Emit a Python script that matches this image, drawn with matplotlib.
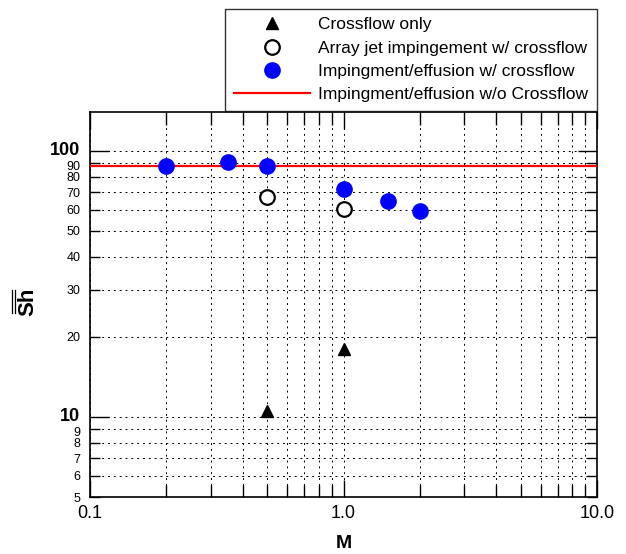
import matplotlib
matplotlib.use('Agg')
import matplotlib.pyplot as plt
from matplotlib.lines import Line2D
from matplotlib.transforms import ScaledTranslation
from matplotlib.ticker import FixedLocator, FixedFormatter, NullFormatter

plt.rcParams['font.family'] = ['Liberation Sans', 'DejaVu Sans']

# Mean Sherwood number vs blowing ratio
crossflow_m = [0.5, 1.0]
crossflow_sh = [10.5, 18.0]

jet_m = [0.5, 1.0]
jet_sh = [67.0, 60.5]

effusion_m = [0.2, 0.35, 0.5, 1.0, 1.5, 2.0]
effusion_sh = [88.0, 90.5, 88.0, 72.0, 65.0, 59.5]

no_crossflow_sh = 88.0

x_major = [0.1, 1.0, 10.0]
x_major_labels = ['0.1', '1.0', '10.0']
x_minor = [0.2, 0.3, 0.4, 0.5, 0.6, 0.7, 0.8, 0.9, 2, 3, 4, 5, 6, 7, 8, 9]
y_major = [10, 100]
y_minor = [5, 6, 7, 8, 9, 20, 30, 40, 50, 60, 70, 80, 90]

W, H = 626, 554
fig = plt.figure(figsize=(W / 100, H / 100), dpi=100)
ax = fig.add_axes([90 / W, 1 - 497 / H, 507 / W, 385 / H])

ax.set_xscale('log')
ax.set_yscale('log')
ax.set_xlim(0.1, 10)
ax.set_ylim(5, 140)

ax.plot(crossflow_m, crossflow_sh, linestyle='none', marker='^', ms=9,
        color='black', label='Crossflow only', zorder=4)
ax.plot(jet_m, jet_sh, linestyle='none', marker='o', ms=10.5,
        mfc='white', mec='black', mew=1.6,
        label='Array jet impingement w/ crossflow', zorder=4)
ax.plot(effusion_m, effusion_sh, linestyle='none', marker='o', ms=11,
        color='blue', label='Impingment/effusion w/ crossflow', zorder=5)
ax.axhline(no_crossflow_sh, color='red', lw=1.6,
           label='Impingment/effusion w/o Crossflow', zorder=3)

ax.xaxis.set_major_locator(FixedLocator(x_major))
ax.xaxis.set_major_formatter(FixedFormatter(x_major_labels))
ax.xaxis.set_minor_locator(FixedLocator(x_minor))
ax.xaxis.set_minor_formatter(NullFormatter())

ax.yaxis.set_major_locator(FixedLocator(y_major))
ax.yaxis.set_major_formatter(FixedFormatter([str(v) for v in y_major]))
ax.yaxis.set_minor_locator(FixedLocator(y_minor))
ax.yaxis.set_minor_formatter(FixedFormatter([str(v) for v in y_minor]))

ax.tick_params(which='both', direction='in', top=True, right=True,
               color='black', width=1.0)
ax.tick_params(axis='x', which='major', length=12, labelsize=13, pad=6)
ax.tick_params(axis='x', which='minor', length=9)
ax.tick_params(axis='y', which='major', length=14, labelsize=13, pad=7)
ax.tick_params(axis='y', which='minor', length=7, labelsize=9, pad=7)

# bold decade labels, nudged apart from the crowded 9 / 90 labels
up = ScaledTranslation(0, 1.5 / 72, fig.dpi_scale_trans)
down = ScaledTranslation(0, -1.5 / 72, fig.dpi_scale_trans)
for t in ax.yaxis.get_major_ticks(len(y_major)):
    t.label1.set_fontweight('bold')
    t.label1.set_transform(t.label1.get_transform() + up)
for t, v in zip(ax.yaxis.get_minor_ticks(len(y_minor)), y_minor):
    if v in (9, 90):
        t.label1.set_transform(t.label1.get_transform() + down)

ax.grid(True, which='both', color='black', lw=0.7, linestyle=(0, (2, 4)))

for sp in ax.spines.values():
    sp.set_linewidth(1.2)
    sp.set_color('black')

ax.set_xlabel('M', fontsize=14, fontweight='bold', labelpad=9)

# y label: "Sh" with a double overbar drawn as two short lines
fig.text(28 / W, 1 - 302 / H, 'Sh', rotation=90, fontsize=16,
         fontweight='bold', ha='center', va='center')
for bx in (12, 14.5):
    fig.add_artist(Line2D([bx / W, bx / W], [1 - 290 / H, 1 - 313 / H],
                          color='black', lw=0.9, transform=fig.transFigure))

leg = ax.legend(loc='lower right', bbox_to_anchor=(597 / W, 1 - 111 / H),
                bbox_transform=fig.transFigure, borderaxespad=0,
                fontsize=12.5, frameon=True, fancybox=False, handlelength=4.4,
                handletextpad=0.46, labelspacing=0.47, borderpad=0.5)
leg.get_frame().set_edgecolor('black')
leg.get_frame().set_linewidth(1.0)

fig.savefig('out.png', dpi=100)
